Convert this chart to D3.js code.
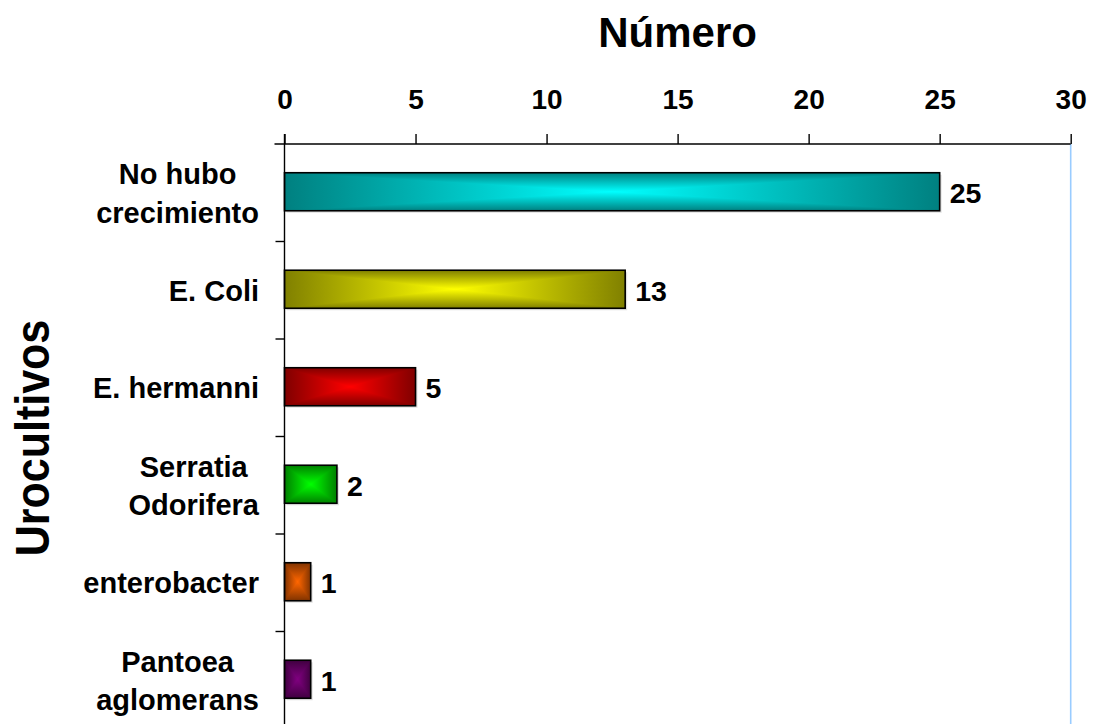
<!DOCTYPE html>
<html>
<head>
<meta charset="utf-8">
<script src="https://cdn.jsdelivr.net/npm/d3@7"></script>
<style>
  html, body { margin: 0; padding: 0; background: #fff; }
  svg { display: block; }
  text { font-family: "Liberation Sans", Arial, sans-serif; font-weight: bold; fill: #000; }
</style>
</head>
<body>
<svg id="chart" width="1103" height="724"></svg>
<script>
const categories = ["No hubo\ncrecimiento", "E. Coli", "E. hermanni", "Serratia\nOdorifera", "enterobacter", "Pantoea\naglomerans"];
const values = [25, 13, 5, 2, 1, 1];
const barColors = ["#00FFFF", "#FFFF00", "#FF0000", "#00FF00", "#FF6600", "#800080"];
const xTicks = [0, 5, 10, 15, 20, 25, 30];
const xTitle = "Número";
const yTitle = "Urocultivos";

(function () {
const svg = d3.select("#chart");
const pLeft = 284.5, pRight = 1070.7, pTop = 144, pBottom = 729;

const x = d3.scaleLinear().domain([0, 30]).range([pLeft, pRight]);
const y = d3.scaleBand().domain(categories).range([pTop, pBottom]).paddingInner(0.61).paddingOuter(0.305);

const defs = svg.append("defs");
barColors.forEach((c, i) => {
  const edge = d3.interpolateRgb("#000", c)(0.5);
  const h = defs.append("linearGradient").attr("id", "gh" + i).attr("x1", 0).attr("x2", 1).attr("y1", 0).attr("y2", 0);
  h.append("stop").attr("offset", 0).attr("stop-color", edge);
  h.append("stop").attr("offset", 0.5).attr("stop-color", c);
  h.append("stop").attr("offset", 1).attr("stop-color", edge);
  const vt = defs.append("linearGradient").attr("id", "gt" + i).attr("x1", 0).attr("x2", 0).attr("y1", 0).attr("y2", 1);
  vt.append("stop").attr("offset", 0).attr("stop-color", edge);
  vt.append("stop").attr("offset", 1).attr("stop-color", c);
  const vb = defs.append("linearGradient").attr("id", "gb" + i).attr("x1", 0).attr("x2", 0).attr("y1", 0).attr("y2", 1);
  vb.append("stop").attr("offset", 0).attr("stop-color", c);
  vb.append("stop").attr("offset", 1).attr("stop-color", edge);
});

// right border line (light blue)
svg.append("line").attr("x1", x(30)).attr("x2", x(30)).attr("y1", pTop).attr("y2", pBottom)
  .attr("stroke", "#99CCFF").attr("stroke-width", 1.6);

// bars
const data = categories.map((c, i) => ({ c, v: values[i], i }));
const bars = svg.append("g").selectAll("g").data(data).join("g");
bars.each(function(d) {
  const g = d3.select(this);
  const x0 = x(0), x1 = x(d.v), y0 = y(d.c) - 1, y1 = y0 + y.bandwidth();
  const cx = (x0 + x1) / 2, cy = (y0 + y1) / 2;
  g.append("rect").attr("x", x0 + 2).attr("y", y0 + 2).attr("width", x1 - x0).attr("height", y1 - y0)
    .attr("fill", "#000").attr("opacity", 0.12);
  g.append("rect").attr("x", x0).attr("y", y0).attr("width", x1 - x0).attr("height", y1 - y0)
    .attr("fill", `url(#gh${d.i})`);
  g.append("polygon").attr("points", `${x0},${y0} ${x1},${y0} ${cx},${cy}`).attr("fill", `url(#gt${d.i})`);
  g.append("polygon").attr("points", `${x0},${y1} ${x1},${y1} ${cx},${cy}`).attr("fill", `url(#gb${d.i})`);
  g.append("rect").attr("x", x0).attr("y", y0).attr("width", x1 - x0).attr("height", y1 - y0)
    .attr("fill", "none").attr("stroke", "#000").attr("stroke-width", 1.6);
  g.append("text").attr("x", x1 + 10).attr("y", cy + 11.5).attr("font-size", 28.5).text(d.v);
});

// top axis
const xAxis = d3.axisTop(x).tickValues(xTicks).tickSize(10).tickSizeOuter(0).tickPadding(25);
const gx = svg.append("g").attr("transform", `translate(0,${pTop})`).call(xAxis);
gx.select(".domain").remove();
gx.selectAll(".tick line").attr("stroke", "#000").attr("stroke-width", 1.4);
gx.selectAll(".tick text").attr("font-size", 28).attr("font-family", "Liberation Sans, Arial, sans-serif").attr("font-weight", "bold").attr("fill", "#000");
svg.append("line").attr("x1", pLeft - 10).attr("x2", pRight).attr("y1", pTop).attr("y2", pTop)
  .attr("stroke", "#000").attr("stroke-width", 1.4);

// left axis
svg.append("line").attr("x1", pLeft).attr("x2", pLeft).attr("y1", pTop - 10).attr("y2", pBottom)
  .attr("stroke", "#000").attr("stroke-width", 1.4);
d3.range(1, categories.length).forEach(k => {
  const yy = pTop + k * y.step();
  svg.append("line").attr("x1", pLeft - 9).attr("x2", pLeft).attr("y1", yy).attr("y2", yy)
    .attr("stroke", "#000").attr("stroke-width", 1.4);
});

// category labels
const labG = svg.append("g");
categories.forEach((c, i) => {
  const lines = c.split("\n");
  const cyc = pTop + (i + 0.5) * y.step();
  const t = labG.append("text").attr("font-size", 29).attr("text-anchor", "middle");
  lines.forEach((ln, k) => {
    t.append("tspan").attr("y", cyc + 10.5 + (k - (lines.length - 1) / 2) * 38.5).text(ln);
  });
  let maxW = 0;
  t.selectAll("tspan").each(function() { maxW = Math.max(maxW, this.getComputedTextLength()); });
  t.selectAll("tspan").attr("x", 259 - maxW / 2);
});

// titles
svg.append("text").attr("x", (pLeft + pRight) / 2).attr("y", 46.5).attr("text-anchor", "middle")
  .attr("font-size", 42).text(xTitle);
svg.append("text").attr("transform", `translate(48.5,438) rotate(-90) scale(1,1.13)`).attr("text-anchor", "middle")
  .attr("font-size", 43).text(yTitle);
})();
</script>
</body>
</html>
